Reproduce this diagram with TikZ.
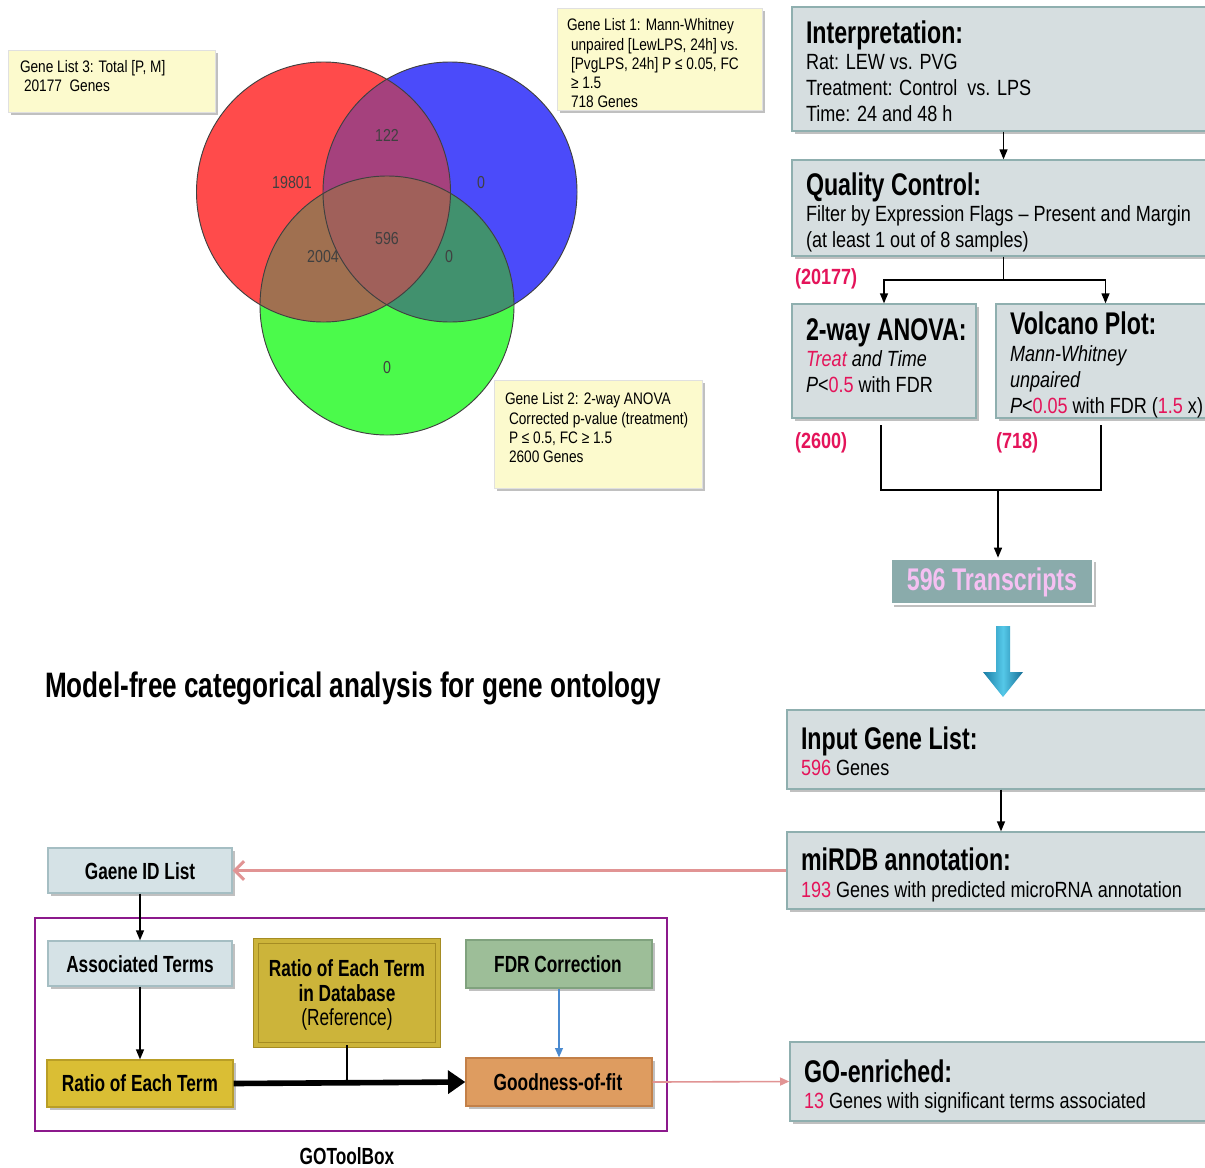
\documentclass[tikz,border=0pt]{standalone}
\usepackage{fontspec}
\setmainfont{Liberation Sans}[FakeStretch=0.82]
\newfontfamily\headfam{Liberation Sans}[FakeStretch=0.74]
\usetikzlibrary{arrows.meta,shadows,fit,calc}
\definecolor{hl}{RGB}{228,20,90}
\definecolor{boxfill}{RGB}{214,222,224}
\definecolor{boxedge}{RGB}{143,175,175}
\definecolor{notefill}{RGB}{252,250,205}
\definecolor{transfill}{RGB}{138,171,171}
\definecolor{transtext}{RGB}{245,192,242}
\definecolor{purp}{RGB}{140,25,140}
\definecolor{salmon}{RGB}{225,148,148}
\definecolor{fdrblue}{RGB}{74,138,208}
\definecolor{gotlight}{RGB}{213,226,230}
\definecolor{gotedge}{RGB}{165,190,195}
\definecolor{olivefill}{RGB}{204,180,58}
\definecolor{oliveedge}{RGB}{165,140,35}
\definecolor{yelfill}{RGB}{218,190,52}
\definecolor{yeledge}{RGB}{185,158,38}
\definecolor{sagefill}{RGB}{157,190,152}
\definecolor{sageedge}{RGB}{128,162,126}
\definecolor{orfill}{RGB}{222,156,96}
\definecolor{oredge}{RGB}{195,128,72}
\definecolor{vred}{RGB}{255,75,75}
\definecolor{vblue}{RGB}{75,75,250}
\definecolor{vgreen}{RGB}{75,250,75}
\definecolor{vrb}{RGB}{165,65,125}
\definecolor{vrg}{RGB}{160,112,80}
\definecolor{vbg}{RGB}{65,145,110}
\definecolor{vrgb}{RGB}{160,96,90}
\definecolor{arrL}{RGB}{25,125,165}
\definecolor{arrM}{RGB}{85,200,232}
\definecolor{arrR}{RGB}{22,110,150}
\newcommand{\myTitle}{\headfam\fontsize{23.5}{26}\selectfont\bfseries}
\newcommand{\myBig}{\headfam\fontsize{26.5}{30}\selectfont\bfseries}
\newcommand{\myBody}{\fontsize{16.5}{19}\selectfont}
\newcommand{\myNote}{\fontsize{12.5}{15}\selectfont}
\newcommand{\myVenn}{\fontsize{13}{15}\selectfont}
\newcommand{\myGot}{\headfam\fontsize{17.5}{20}\selectfont\bfseries}
\newcommand{\Tx}[4][]{\node[txt,#1] (#2) at #3 {#4};}
\newcommand{\vennR}{(323.5,192) ellipse [x radius=127, y radius=130]}
\newcommand{\vennB}{(450,192) ellipse [x radius=127, y radius=130]}
\newcommand{\vennG}{(387,305.5) ellipse [x radius=127, y radius=129.5]}
\begin{document}
\begin{tikzpicture}[x=0.75pt,y=-0.75pt,
  txt/.style={anchor=base west, inner sep=0pt, outer sep=0pt},
  ctxt/.style={anchor=center, inner sep=0pt, outer sep=0pt},
  shad/.style={drop shadow={shadow xshift=2pt,shadow yshift=-2pt,opacity=0.35,fill=black!70}},
  gbox/.style={draw=boxedge, fill=boxfill, line width=1pt, inner sep=0pt, shad},
  note/.style={draw=black!12, fill=notefill, line width=0.6pt, inner sep=0pt, shad},
  gotbox/.style={line width=1pt, inner sep=0pt, shad},
  arr/.style={-{Triangle[length=7.5pt,width=6pt]}, line width=1pt},
  vline/.style={draw=black!75, line width=0.7pt},
  vlab/.style={ctxt, font=\myVenn, text=black!75}
]
\useasboundingbox (0,0) rectangle (1205,1167);
\fill[white] (0,0) rectangle (1205,1167);

% ---------------- Venn diagram ----------------
\fill[vred] \vennR;
\fill[vblue] \vennB;
\fill[vgreen] \vennG;
\begin{scope}\clip \vennR; \fill[vrb] \vennB; \end{scope}
\begin{scope}\clip \vennR; \fill[vrg] \vennG; \end{scope}
\begin{scope}\clip \vennB; \fill[vbg] \vennG; \end{scope}
\begin{scope}\clip \vennR; \clip \vennB; \fill[vrgb] \vennG; \end{scope}
\draw[vline] \vennR;
\draw[vline] \vennB;
\draw[vline] \vennG;
\node[vlab] (v122) at (387,135) {122};
\node[vlab] (v19801) at (292,183) {19801};
\node[vlab] (vb0) at (481,183) {0};
\node[vlab] (v596) at (387,239) {596};
\node[vlab] (v2004) at (323,257) {2004};
\node[vlab] (vbg0) at (449,257) {0};
\node[vlab] (vg0) at (387,368) {0};

% notes
\node[note, fit={(8,50) (215,112)}] (n3) {};
\Tx[font=\myNote]{n3a}{(20,72)}{Gene List 3: Total [P, M]}
\Tx[font=\myNote]{n3b}{(24,91)}{20177\ \ Genes}
\node[note, fit={(557,8) (762,110)}] (n1) {};
\Tx[font=\myNote]{n1a}{(567,30)}{Gene List 1: Mann-Whitney}
\Tx[font=\myNote]{n1b}{(571,50)}{unpaired [LewLPS, 24h] vs.}
\Tx[font=\myNote]{n1c}{(571,69)}{[PvgLPS, 24h] P ≤ 0.05, FC}
\Tx[font=\myNote]{n1d}{(571,88)}{≥ 1.5}
\Tx[font=\myNote]{n1e}{(571,107)}{718 Genes}
\node[note, fit={(494,380) (702,488)}] (n2) {};
\Tx[font=\myNote]{n2a}{(505,404)}{Gene List 2: 2-way ANOVA}
\Tx[font=\myNote]{n2b}{(509,424)}{Corrected p-value (treatment)}
\Tx[font=\myNote]{n2c}{(509,443)}{P ≤ 0.5, FC ≥ 1.5}
\Tx[font=\myNote]{n2d}{(509,462)}{2600 Genes}

% ---------------- right flow chart ----------------
\node[gbox, fit={(792,7) (1215,131)}] (interp) {};
\Tx[font=\myTitle]{interpT}{(806,43)}{Interpretation:}
\Tx[font=\myBody]{interp1}{(806,69)}{Rat: LEW vs. PVG}
\Tx[font=\myBody]{interp2}{(806,95)}{Treatment: Control\ \ vs. LPS}
\Tx[font=\myBody]{interp3}{(806,121)}{Time: 24 and 48 h}

\node[gbox, fit={(792,160) (1215,256)}] (qc) {};
\Tx[font=\myTitle]{qcT}{(806,195)}{Quality Control:}
\Tx[font=\myBody]{qc1}{(806,221)}{Filter by Expression Flags – Present and Margin}
\Tx[font=\myBody]{qc2}{(806,247)}{(at least 1 out of 8 samples)}
\Tx[font=\myBody\bfseries, text=hl]{c20177}{(795,284)}{(20177)}

\node[gbox, fit={(792,304) (976,418)}] (anova) {};
\Tx[font=\myTitle]{anovaT}{(806,340)}{2-way ANOVA:}
\Tx[font=\myBody\itshape]{anova1}{(806,366)}{\textcolor{hl}{Treat} and Time}
\Tx[font=\myBody]{anova2}{(806,392)}{\textit{P}<\textcolor{hl}{0.5} with FDR}

\node[gbox, fit={(996,304) (1215,418)}] (volc) {};
\Tx[font=\myTitle]{volcT}{(1010,334)}{Volcano Plot:}
\Tx[font=\myBody\itshape]{volc1}{(1010,361)}{Mann-Whitney}
\Tx[font=\myBody\itshape]{volc2}{(1010,387)}{unpaired}
\Tx[font=\myBody]{volc3}{(1010,413)}{\textit{P}<\textcolor{hl}{0.05} with FDR (\textcolor{hl}{1.5} x)}

\Tx[font=\myBody\bfseries, text=hl]{c2600}{(795,448)}{(2600)}
\Tx[font=\myBody\bfseries, text=hl]{c718}{(996,448)}{(718)}

\node[draw=white, fill=transfill, line width=2pt, inner sep=0pt, shad, fit={(891,559) (1093,604)}] (trans) {};
\node[ctxt, font=\myTitle, text=transtext] (transT) at (992,582) {596 Transcripts};

\coordinate (sp) at (1003.5,280);
\draw[arr] (interp.south) -- (qc.north);
\draw[line width=1pt] (qc.south) -- (sp);
\draw[arr] (sp) -| (anova.north);
\draw[arr] (sp) -| (volc.north);
\coordinate (a1) at (881,425);
\coordinate (w1) at (1101,425);
\coordinate (jn) at (998,490);
\draw[line width=1pt] (a1) |- (jn) -| (w1);
\draw[arr] (jn) -- (jn |- trans.north);

% big blue arrow
\shade[left color=arrL, right color=arrR, middle color=arrM]
  (996,626) -- (1010,626) -- (1010,672) -- (1023,672) -- (1003,697) -- (983,672) -- (996,672) -- cycle;

\node[gbox, fit={(787,710) (1215,789)}] (input) {};
\Tx[font=\myTitle]{inputT}{(801,749)}{Input Gene List:}
\Tx[font=\myBody]{input1}{(801,775)}{\textcolor{hl}{596} Genes}

\node[gbox, fit={(787,832) (1215,909)}] (mirdb) {};
\Tx[font=\myTitle]{mirdbT}{(801,870)}{miRDB annotation:}
\Tx[font=\myBody]{mirdb1}{(801,897)}{\textcolor{hl}{193} Genes with predicted microRNA annotation}

\node[gbox, fit={(790,1042) (1215,1121)}] (goen) {};
\Tx[font=\myTitle]{goenT}{(804,1082)}{GO-enriched:}
\Tx[font=\myBody]{goen1}{(804,1108)}{\textcolor{hl}{13} Genes with significant terms associated}

\draw[arr] (input.south) -- (mirdb.north);

% ---------------- left lower part ----------------
\Tx[font=\myBig]{mftitle}{(45,697)}{Model-free categorical analysis for gene ontology}

\node[draw=purp, line width=1.4pt, inner sep=0pt, fit={(35,918) (667,1131)}] (frame) {};
\node[ctxt, font=\myGot] (gtb) at (347,1156) {GOToolBox};

\node[gotbox, draw=gotedge, fill=gotlight, fit={(48,848) (232,893)}] (gaene) {};
\node[ctxt, font=\myGot] (gaeneT) at (140,871) {Gaene ID List};

\node[gotbox, draw=gotedge, fill=gotlight, fit={(48,941) (232,986)}] (assoc) {};
\node[ctxt, font=\myGot] (assocT) at (140,964) {Associated Terms};

\node[gotbox, draw=oliveedge, double=olivefill, double distance=2.5pt, line width=0.7pt, fill=olivefill, fit={(256,941) (438,1045)}] (ratiodb) {};
\node[ctxt, font=\myGot] (ratiodb1) at (347,968) {Ratio of Each Term};
\node[ctxt, font=\myGot] (ratiodb2) at (347,993) {in Database};
\node[ctxt, font=\headfam\fontsize{17.5}{20}\selectfont] (ratiodb3) at (347,1019) {(Reference)};

\node[gotbox, draw=sageedge, fill=sagefill, fit={(466,940) (652,988)}] (fdr) {};
\node[ctxt, font=\myGot] (fdrT) at (558,964) {FDR Correction};

\node[gotbox, draw=yeledge, fill=yelfill, fit={(47,1060) (233,1107)}] (ratio) {};
\node[ctxt, font=\myGot] (ratioT) at (140,1083) {Ratio of Each Term};

\node[gotbox, draw=oredge, fill=orfill, fit={(466,1058) (652,1106)}] (good) {};
\node[ctxt, font=\myGot] (goodT) at (558,1082) {Goodness-of-fit};

\draw[arr] (gaene.south) -- (assoc.north);
\draw[arr] (assoc.south) -- (ratio.north);
\draw[-{Triangle[length=13pt,width=17pt]}, line width=4.2pt] (ratio.east) -- (good.west);
\draw[line width=1pt] (ratiodb.south) -- (ratiodb.south |- ratio.east);
\draw[-{Triangle[length=7pt,width=6pt]}, line width=0.8pt, draw=fdrblue, fill=fdrblue] (fdr.south) -- (good.north);

\draw[-{Straight Barb[length=7pt,width=14pt]}, line width=2.2pt, draw=salmon] (mirdb.west) -- (gaene.east);
\draw[-{Triangle[length=7pt,width=6pt]}, line width=1.2pt, draw=salmon, fill=salmon] (good.east) -- (goen.west);
\end{tikzpicture}
\end{document}
